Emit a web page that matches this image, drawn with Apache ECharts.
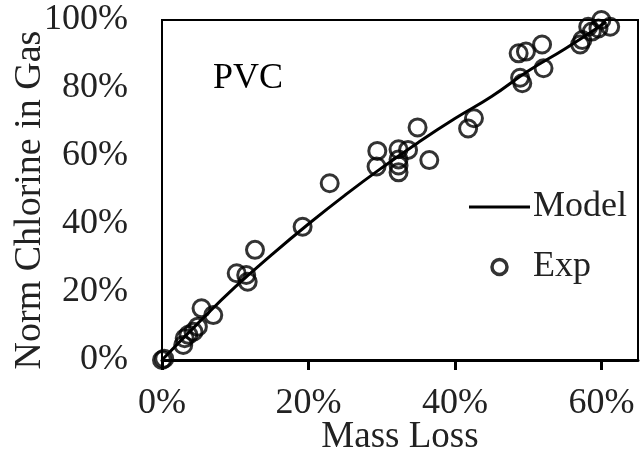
<!DOCTYPE html>
<html>
<head>
<meta charset="utf-8">
<script src="https://cdn.jsdelivr.net/npm/echarts@6/dist/echarts.min.js"></script>
<style>
  html, body { margin: 0; padding: 0; background: #fff; }
  #main { width: 643px; height: 459px; }
</style>
</head>
<body>
<div id="main"></div>
<script>
// measured points, [mass loss %, norm chlorine %]
var expPoints = [
  [0, 0], [0.3, 0.4],
  [2.9, 4.4], [3.1, 6.4], [3.6, 7.4], [4.3, 8.3], [4.9, 9.8], [5.4, 15.2], [7.0, 13.2],
  [10.2, 25.5], [11.5, 25.0], [11.7, 23.0], [12.7, 32.4], [19.2, 39.2],
  [22.9, 52.0], [29.3, 56.9], [29.4, 61.5], [32.3, 62.0], [32.3, 59.0], [32.3, 57.2],
  [32.3, 55.2], [33.6, 61.8], [34.9, 68.4], [36.5, 58.8], [41.8, 68.1], [42.6, 71.1],
  [48.7, 90.2], [49.7, 90.7], [51.9, 92.8], [48.9, 83.0], [49.2, 81.4], [52.1, 85.8],
  [57.1, 92.8], [57.4, 94.1], [58.2, 98.0], [58.7, 96.6], [59.6, 97.5], [60.0, 100], [61.2, 98.0]
];

var modelPoints = [
  [0, 0], [5, 11], [10, 21.5], [15, 31], [20, 40], [25, 48.5], [30, 56.5],
  [35, 64], [40, 71], [45, 77.5], [50, 85], [55, 91.5], [60, 98.5], [60.6, 99.6]
];

var xTicks = [0, 20, 40, 60];
var yTicks = [0, 20, 40, 60, 80, 100];

var font = "'Liberation Serif', 'Times New Roman', serif";

var myChart = echarts.init(document.getElementById("main"));

var option = {
  animation: false,
  backgroundColor: "#fff",
  textStyle: { fontFamily: font, color: "#000" },
  grid: {
    left: 162,
    top: 20,
    right: 5,
    bottom: 99,
    show: true,
    borderColor: "#000",
    borderWidth: 2,
  },
  xAxis: {
    type: "value",
    min: 0,
    max: 65,
    interval: 20,
    axisLine: { lineStyle: { color: "#000", width: 3 } },
    axisTick: { show: true, length: 10, lineStyle: { color: "#000", width: 3 } },
    splitLine: { show: false },
    axisLabel: {
      margin: 26,
      fontSize: 36,
      fontFamily: font,
      color: "#222",
      showMaxLabel: false,
      formatter: function (v) {
        return xTicks.indexOf(v) >= 0 ? v + "%" : "";
      },
    },
  },
  yAxis: {
    type: "value",
    min: 0,
    max: 100,
    interval: 20,
    axisLine: { show: true, lineStyle: { color: "#000", width: 2 } },
    axisTick: { show: false },
    splitLine: { show: false },
    axisLabel: {
      margin: 34,
      fontSize: 36,
      fontFamily: font,
      color: "#222",
      formatter: function (v) {
        return yTicks.indexOf(v) >= 0 ? v + "%" : "";
      },
    },
  },
  legend: {
    orient: "vertical",
    left: 464,
    top: 184,
    itemWidth: 61,
    itemHeight: 15,
    itemGap: 24,
    textStyle: { fontSize: 36, fontFamily: font, color: "#222", padding: [0, 0, 0, -2] },
    data: [
      { name: "Model", icon: "path://M0,0L61,0L61,3L0,3Z" },
      { name: "Exp", itemStyle: { borderWidth: 3.5 } },
    ],
  },
  graphic: [
    {
      type: "text",
      left: 213,
      top: 61,
      style: { text: "PVC", font: "36px " + font, fill: "#000" },
    },
    {
      type: "text",
      x: 30,
      y: 200,
      rotation: Math.PI / 2,
      style: {
        text: "Norm Chlorine in Gas",
        font: "38px " + font,
        fill: "#222",
        align: "center",
        verticalAlign: "middle",
      },
    },
    {
      type: "text",
      x: 400,
      y: 437,
      style: {
        text: "Mass Loss",
        font: "37px " + font,
        fill: "#222",
        align: "center",
        verticalAlign: "middle",
      },
    },
  ],
  series: [
    {
      name: "Model",
      type: "line",
      data: modelPoints,
      smooth: true,
      symbol: "none",
      lineStyle: { color: "#000", width: 3 },
      itemStyle: { color: "#000" },
      z: 2,
    },
    {
      name: "Exp",
      type: "scatter",
      data: expPoints,
      symbol: "circle",
      symbolSize: 17,
      itemStyle: { color: "rgba(0,0,0,0)", borderColor: "#000", borderWidth: 3 },
      z: 3,
    },
  ],
};

myChart.setOption(option);
</script>
</body>
</html>
